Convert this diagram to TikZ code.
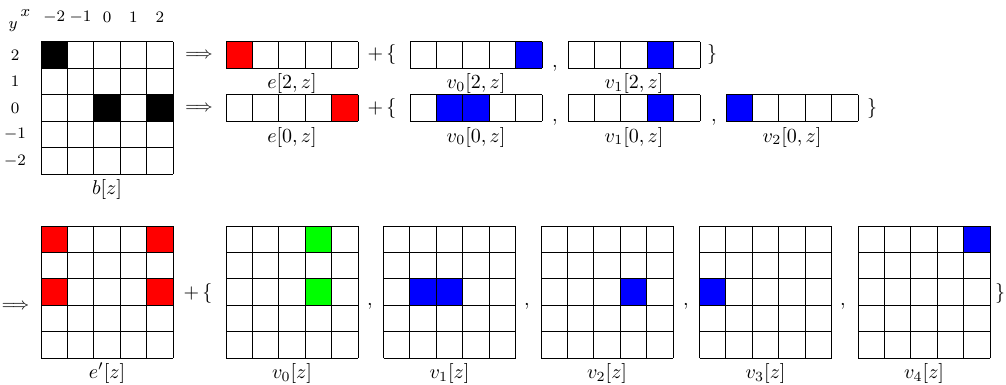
\documentclass[tikz,border=0pt]{standalone}
\tikzset{
  gridline/.style={draw=black,line width=0.5pt},
  axlab/.style={inner sep=0pt,font=\footnotesize},
  lab/.style={inner sep=0pt},
  sym/.style={inner sep=0pt},
  arr/.style={inner sep=0pt,font=\fontsize{8.5}{10}\selectfont},
}
\newcommand\cellgrid[4]{%
  \foreach \i in {0,...,#3} \draw[gridline] ({#1+\i*26.4},#2) -- ++(0,{#4*26.4});
  \foreach \j in {0,...,#4} \draw[gridline] (#1,{#2+\j*26.4}) -- ++({#3*26.4},0);
}
\newcommand\cellfill[5]{\fill[#1] ({#2+#4*26.4},{#3+#5*26.4}) rectangle ++(26.4,26.4);}
\begin{document}
\begin{tikzpicture}[x=0.5pt,y=-0.5pt]
\useasboundingbox (0,0) rectangle (1006,385);
% ---------- b[z] ----------
\node[axlab] (ax) at (25.5,13) {$x$};
\node[axlab] (ay) at (13,27) {$y$};
\foreach \v [count=\k from 0] in {-2,-1,0,1,2}{
  \node[axlab] (cx\k) at ({54.2+\k*26.4},17) {$\v$};
}
\foreach \v [count=\k from 0] in {2,1,0,-1,-2}{
  \node[axlab] (ry\k) at (15,{55.2+\k*26.4}) {$\v$};
}
\cellfill{black}{41}{42}{0}{0}
\cellfill{black}{41}{42}{2}{2}
\cellfill{black}{41}{42}{4}{2}
\cellgrid{41}{42}{5}{5}
\node[lab] (lb) at (107,189) {$b[z]$};
% ---------- row y=2 ----------
\node[arr] (ar1) at (199,55) {$\Longrightarrow$};
\cellfill{red}{226}{42}{0}{0}
\cellgrid{226}{42}{5}{1}
\node[lab] (le2) at (292,84) {$e[2,z]$};
\node[sym] (pl1) at (382,55) {$+\,\{$};
\cellfill{blue}{410}{42}{4}{0}
\cellgrid{410}{42}{5}{1}
\node[lab] (lv02) at (476,84) {$v_0[2,z]$};
\node[sym,anchor=base] (cm1) at (555,68) {$,$};
\cellfill{blue}{568}{42}{3}{0}
\cellgrid{568}{42}{5}{1}
\node[lab] (lv12) at (634,84) {$v_1[2,z]$};
\node[sym] (br1) at (712,55) {$\}$};
% ---------- row y=0 ----------
\node[arr] (ar2) at (199,108) {$\Longrightarrow$};
\cellfill{red}{226}{95}{4}{0}
\cellgrid{226}{95}{5}{1}
\node[lab] (le0) at (292,137) {$e[0,z]$};
\node[sym] (pl2) at (382,108) {$+\,\{$};
\cellfill{blue}{410}{95}{1}{0}
\cellfill{blue}{410}{95}{2}{0}
\cellgrid{410}{95}{5}{1}
\node[lab] (lv00) at (476,137) {$v_0[0,z]$};
\node[sym,anchor=base] (cm2) at (555,121) {$,$};
\cellfill{blue}{568}{95}{3}{0}
\cellgrid{568}{95}{5}{1}
\node[lab] (lv10) at (634,137) {$v_1[0,z]$};
\node[sym,anchor=base] (cm3) at (714,121) {$,$};
\cellfill{blue}{726}{95}{0}{0}
\cellgrid{726}{95}{5}{1}
\node[lab] (lv20) at (792,137) {$v_2[0,z]$};
\node[sym] (br2) at (872,108) {$\}$};
% ---------- bottom ----------
\node[arr] (ar3) at (15.5,306) {$\Longrightarrow$};
\cellfill{red}{41}{226}{0}{0}
\cellfill{red}{41}{226}{4}{0}
\cellfill{red}{41}{226}{0}{2}
\cellfill{red}{41}{226}{4}{2}
\cellgrid{41}{226}{5}{5}
\node[lab] (lep) at (107,373) {$e'[z]$};
\node[sym] (pl3) at (198,293) {$+\,\{$};
\cellfill{green}{226}{226}{3}{0}
\cellfill{green}{226}{226}{3}{2}
\cellgrid{226}{226}{5}{5}
\node[lab] (lw0) at (292,373) {$v_0[z]$};
\node[sym,anchor=base] (cm4) at (370,305) {$,$};
\cellfill{blue}{383.5}{226}{1}{2}
\cellfill{blue}{383.5}{226}{2}{2}
\cellgrid{383.5}{226}{5}{5}
\node[lab] (lw1) at (449.5,373) {$v_1[z]$};
\node[sym,anchor=base] (cm5) at (527,305) {$,$};
\cellfill{blue}{541}{226}{3}{2}
\cellgrid{541}{226}{5}{5}
\node[lab] (lw2) at (607,373) {$v_2[z]$};
\node[sym,anchor=base] (cm6) at (686,305) {$,$};
\cellfill{blue}{699.5}{226}{0}{2}
\cellgrid{699.5}{226}{5}{5}
\node[lab] (lw3) at (765.5,373) {$v_3[z]$};
\node[sym,anchor=base] (cm7) at (843,305) {$,$};
\cellfill{blue}{858}{226}{4}{0}
\cellgrid{858}{226}{5}{5}
\node[lab] (lw4) at (924,373) {$v_4[z]$};
\node[sym] (br3) at (1000,293) {$\}$};
\end{tikzpicture}
\end{document}
